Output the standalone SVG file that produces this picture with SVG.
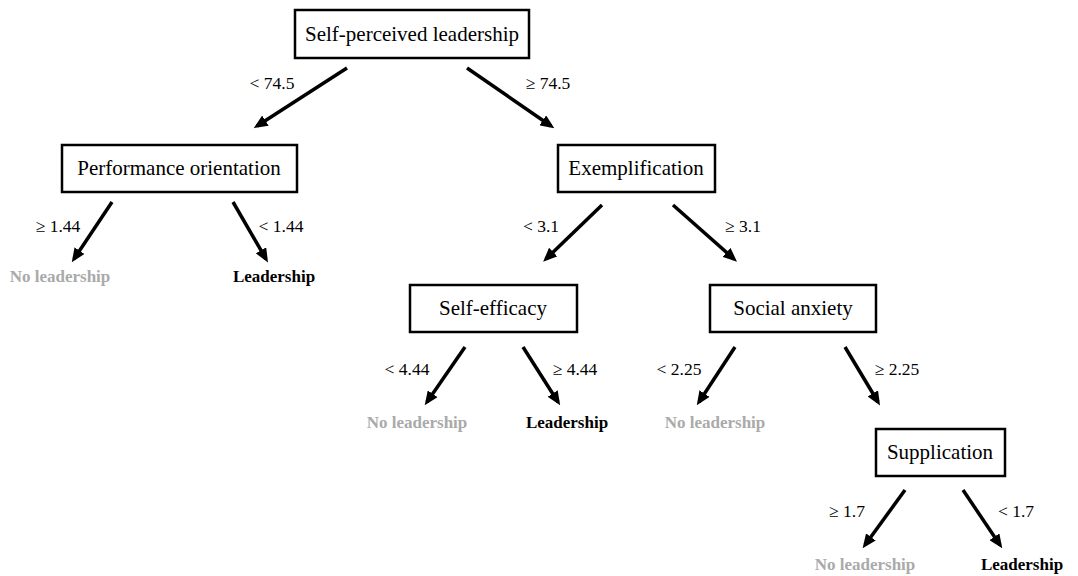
<svg xmlns="http://www.w3.org/2000/svg" width="1078" height="576" viewBox="0 0 1078 576">
<style>
.box{fill:#fff;stroke:#000;stroke-width:2.5}
.nt{font-family:"Liberation Serif","Times New Roman",serif;font-size:21px;fill:#000;text-anchor:middle}
.lb{font-family:"Liberation Serif","Times New Roman",serif;font-size:17.5px;fill:#000;text-anchor:middle}
.yes{font-family:"Liberation Serif","Times New Roman",serif;font-size:17px;font-weight:bold;fill:#000;text-anchor:middle}
.no{font-family:"Liberation Serif","Times New Roman",serif;font-size:17px;font-weight:bold;fill:#aaaaaa;text-anchor:middle}
.ar{stroke:#000;stroke-width:3.5;fill:none;marker-end:url(#ah)}
</style>
<defs>
<marker id="ah" viewBox="0 0 14 12" refX="10" refY="6" markerWidth="14" markerHeight="12" orient="auto" markerUnits="userSpaceOnUse">
<path d="M0,0 L14,6 L0,12 z" fill="#000"/>
</marker>
</defs>
<rect width="1078" height="576" fill="#fff"/>
<g id="connectors">
<line class="ar" x1="347" y1="68" x2="257" y2="126"/>
<line class="ar" x1="467" y1="68" x2="551" y2="126"/>
<line class="ar" x1="112" y1="202" x2="74" y2="259"/>
<line class="ar" x1="233" y1="202" x2="266" y2="259"/>
<line class="ar" x1="602" y1="205" x2="546" y2="259"/>
<line class="ar" x1="673" y1="205" x2="734" y2="259"/>
<line class="ar" x1="465" y1="347" x2="427" y2="402"/>
<line class="ar" x1="523" y1="347" x2="558" y2="402"/>
<line class="ar" x1="735" y1="347" x2="699" y2="402"/>
<line class="ar" x1="845" y1="347" x2="878" y2="402"/>
<line class="ar" x1="905" y1="490" x2="865" y2="545"/>
<line class="ar" x1="963" y1="490" x2="1000" y2="545"/>
</g>
<g id="edge-labels">
<text class="lb" x="272" y="89">&lt; 74.5</text>
<text class="lb" x="548" y="89">≥ 74.5</text>
<text class="lb" x="58" y="232">≥ 1.44</text>
<text class="lb" x="281" y="232">&lt; 1.44</text>
<text class="lb" x="541" y="232">&lt; 3.1</text>
<text class="lb" x="743" y="232">≥ 3.1</text>
<text class="lb" x="407" y="375">&lt; 4.44</text>
<text class="lb" x="575" y="375">≥ 4.44</text>
<text class="lb" x="679" y="375">&lt; 2.25</text>
<text class="lb" x="897" y="375">≥ 2.25</text>
<text class="lb" x="847" y="517">≥ 1.7</text>
<text class="lb" x="1016" y="517">&lt; 1.7</text>
</g>
<g id="n-root"><rect class="box" x="295" y="10" width="234" height="48"/><text class="nt" x="412" y="41">Self-perceived leadership</text></g>
<g id="n-perf"><rect class="box" x="62" y="145" width="235" height="47"/><text class="nt" x="179" y="175">Performance orientation</text></g>
<g id="n-exempl"><rect class="box" x="558" y="145" width="157" height="47"/><text class="nt" x="636" y="175">Exemplification</text></g>
<g id="n-selfeff"><rect class="box" x="410" y="285" width="167" height="47"/><text class="nt" x="493" y="315">Self-efficacy</text></g>
<g id="n-social"><rect class="box" x="710" y="285" width="166" height="47"/><text class="nt" x="793" y="315">Social anxiety</text></g>
<g id="n-suppl"><rect class="box" x="876" y="429" width="129" height="47"/><text class="nt" x="940" y="459">Supplication</text></g>
<g id="leaf-1"><text class="no" x="60" y="282">No leadership</text></g>
<g id="leaf-2"><text class="yes" x="274" y="282">Leadership</text></g>
<g id="leaf-3"><text class="no" x="417" y="428">No leadership</text></g>
<g id="leaf-4"><text class="yes" x="567" y="428">Leadership</text></g>
<g id="leaf-5"><text class="no" x="715" y="428">No leadership</text></g>
<g id="leaf-6"><text class="no" x="865" y="570">No leadership</text></g>
<g id="leaf-7"><text class="yes" x="1022" y="570">Leadership</text></g>
</svg>
